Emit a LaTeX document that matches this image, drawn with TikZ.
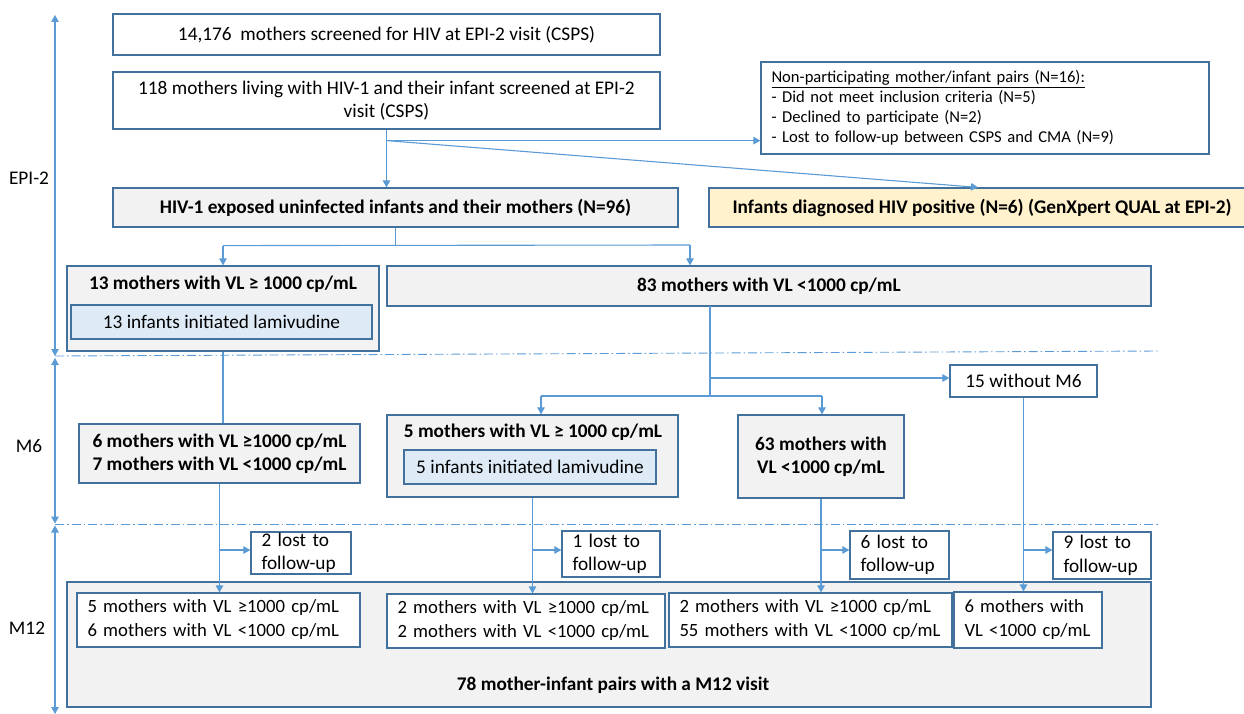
\documentclass[tikz,border=0pt]{standalone}
\usepackage{fontspec}
\setmainfont{Carlito}
\usetikzlibrary{arrows.meta}
\definecolor{bordc}{HTML}{41719C}
\definecolor{linec}{HTML}{5B9BD5}
\definecolor{grayf}{HTML}{F2F2F2}
\definecolor{bluef}{HTML}{DEEBF7}
\definecolor{yelf}{HTML}{FFF2CC}
\begin{document}
\begin{tikzpicture}[x=1pt,y=-1pt,
  every node/.style={font=\fontsize{19.3}{23.5}\selectfont},
  bx/.style={draw=bordc, line width=1.2pt, rectangle, inner sep=0pt, align=center},
  lbx/.style={bx, align=left, inner xsep=10.5pt},
  bold/.style={font=\fontsize{19.3}{23.5}\selectfont\bfseries},
  small/.style={font=\fontsize{16.6}{20}\selectfont},
  mtext/.style={font=\fontsize{18.7}{24}\selectfont},
  conn/.style={draw=linec, line width=1.1pt},
  arr/.style={conn, -{Triangle[length=7pt,width=7.5pt]}},
  axis/.style={conn, {Triangle[length=7pt,width=7.5pt]}-{Triangle[length=7pt,width=7.5pt]}},
  phase/.style={draw=linec, line width=0.9pt, dash pattern=on 9pt off 3pt on 1.5pt off 3pt}]
\useasboundingbox (0,0) rectangle (1244,714);

% phase axis
\coordinate (a0) at (55,15);
\coordinate (a1) at (55,356);
\coordinate (a2) at (55,358);
\coordinate (a3) at (55,523.5);
\coordinate (a4) at (55,525.5);
\coordinate (a5) at (55,714);
\draw[axis] (a0) -- (a1);
\draw[axis] (a2) -- (a3);
\draw[axis] (a4) -- (a5);
\node (tEPI) at (29,178) {EPI-2};
\node (tM6) at (29,446) {M6};
\node (tM12) at (27,628) {M12};
\coordinate (d1a) at (55,356);
\coordinate (d1b) at (1160,351);
\coordinate (d2a) at (55,524);
\coordinate (d2b) at (1160,524);
\draw[phase] (d1a) -- (d1b);
\draw[phase] (d2a) -- (d2b);

% EPI-2
\node[bx, minimum width=547, minimum height=41] (b1) at (386.5,34.5)
  {14,176\ \ mothers screened for HIV at EPI-2 visit (CSPS)};
\node[bx, minimum width=547, minimum height=57] (b2) at (386.5,100.5)
  {118 mothers living with HIV-1 and their infant screened at EPI-2\\visit (CSPS)};
\node[lbx, small, text width=427, minimum height=92] (np) at (985,108)
  {\underline{Non-participating mother/infant pairs (N=16):}\\
   - Did not meet inclusion criteria (N=5)\\
   - Declined to participate (N=2)\\
   - Lost to follow-up between CSPS and CMA (N=9)};
\node[bx, bold, fill=grayf, minimum width=565, minimum height=39] (b4) at (395.5,207.5)
  {HIV-1 exposed uninfected infants and their mothers (N=96)};
\node[bx, bold, fill=yelf, minimum width=546, minimum height=39] (yel) at (982,207.5)
  {Infants diagnosed HIV positive (N=6) (GenXpert QUAL at EPI-2)};

\node[bx, fill=grayf, minimum width=312, minimum height=85] (b6) at (223,308.5) {};
\node[bold] (b6t) at (223,284) {13 mothers with VL ≥ 1000 cp/mL};
\node[bx, fill=bluef, minimum width=301, minimum height=34] (b6i) at (221.5,322)
  {13 infants initiated lamivudine};
\node[bx, bold, fill=grayf, minimum width=764, minimum height=40] (b7) at (769,286)
  {83 mothers with VL <1000 cp/mL};

% M6
\node[bx, bold, fill=grayf, minimum width=281, minimum height=59] (b8) at (219.5,453.5)
  {6 mothers with VL ≥1000 cp/mL\\7 mothers with VL <1000 cp/mL};
\node[bx, fill=grayf, minimum width=291, minimum height=82] (b9) at (532.5,456) {};
\node[bold] (b9t) at (533,432) {5 mothers with VL ≥ 1000 cp/mL};
\node[bx, fill=bluef, minimum width=252, minimum height=34] (b9i) at (530,467)
  {5 infants initiated lamivudine};
\node[bx, bold, fill=grayf, minimum width=166, minimum height=83] (b10) at (821,456.5)
  {63 mothers with\\VL <1000 cp/mL};
\node[bx, minimum width=147, minimum height=32] (b11) at (1023.5,381) {15 without M6};

% M12
\node[lbx, text width=79, minimum height=42] (l2) at (301,553) {\mbox{2 lost to}\\\mbox{follow-up}};
\node[lbx, text width=77, minimum height=46] (l1) at (611,554) {\mbox{1 lost to}\\\mbox{follow-up}};
\node[lbx, text width=78, minimum height=48] (l6) at (899.5,555) {\mbox{6 lost to}\\\mbox{follow-up}};
\node[lbx, text width=77, minimum height=47] (l9) at (1102,555.5) {\mbox{9 lost to}\\\mbox{follow-up}};

\node[bx, fill=grayf, minimum width=1084, minimum height=125] (m12) at (609,644.5) {};
\node[bold] (m12t) at (613,685) {78 mother-infant pairs with a M12 visit};
\node[lbx, mtext, fill=white, text width=262, minimum height=54] (mA) at (218.5,620)
  {\mbox{5 mothers with VL ≥1000 cp/mL}\\\mbox{6 mothers with VL <1000 cp/mL}};
\node[lbx, mtext, fill=white, text width=257, minimum height=54] (mB) at (526,621)
  {\mbox{2 mothers with VL ≥1000 cp/mL}\\\mbox{2 mothers with VL <1000 cp/mL}};
\node[lbx, mtext, fill=white, text width=262, minimum height=54] (mC) at (810.5,620)
  {\mbox{2 mothers with VL ≥1000 cp/mL}\\\mbox{55 mothers with VL <1000 cp/mL}};
\node[lbx, mtext, fill=white, text width=127, minimum height=56] (mD) at (1028,620)
  {\mbox{6 mothers with}\\\mbox{VL <1000 cp/mL}};

% connectors EPI-2
\path (b2.south) ++(0,11) coordinate (j1);
\draw[arr] (b2.south) -- (b2.south |- b4.north);
\draw[arr] (j1) -- (j1 -| np.west);
\draw[arr] (j1) -- ([xshift=-4pt]yel.north);
\path (b4.south) ++(0,18) coordinate (j2);
\coordinate (j2r) at (690,245);
\draw[conn] (b4.south) -- (j2);
\draw[conn] (b6.north |- j2) -- (j2r);
\draw[arr] (b6.north |- j2) -- (b6.north);
\draw[arr] (j2r) -- (j2r |- b7.north);

% connectors M6
\draw[conn] (b6.south) -- (b6.south |- b8.north);
\coordinate (j3) at (710,306);
\coordinate (j3b) at (710,378);
\coordinate (j3c) at (710,396);
\coordinate (j4l) at (541,396);
\coordinate (j4r) at (822,396);
\draw[conn] (j3) -- (j3c);
\draw[arr] (j3b) -- (j3b -| b11.west);
\draw[conn] (j4l) -- (j4r);
\draw[arr] (j4l) -- (j4l |- b9.north);
\draw[arr] (j4r) -- (j4r |- b10.north);

% connectors M12
\coordinate (y550) at (0,550);
\draw[arr] (b8.south) -- (b8.south |- mA.north);
\draw[arr] (b8.south |- y550) -- (l2.west |- y550);
\draw[arr] (b9.south) -- (b9.south |- mB.north);
\draw[arr] (b9.south |- y550) -- (l1.west |- y550);
\draw[arr] (b10.south) -- (b10.south |- mC.north);
\draw[arr] (b10.south |- y550) -- (l6.west |- y550);
\draw[arr] (b11.south) -- (b11.south |- mD.north);
\draw[arr] (b11.south |- y550) -- (l9.west |- y550);
\end{tikzpicture}
\end{document}
